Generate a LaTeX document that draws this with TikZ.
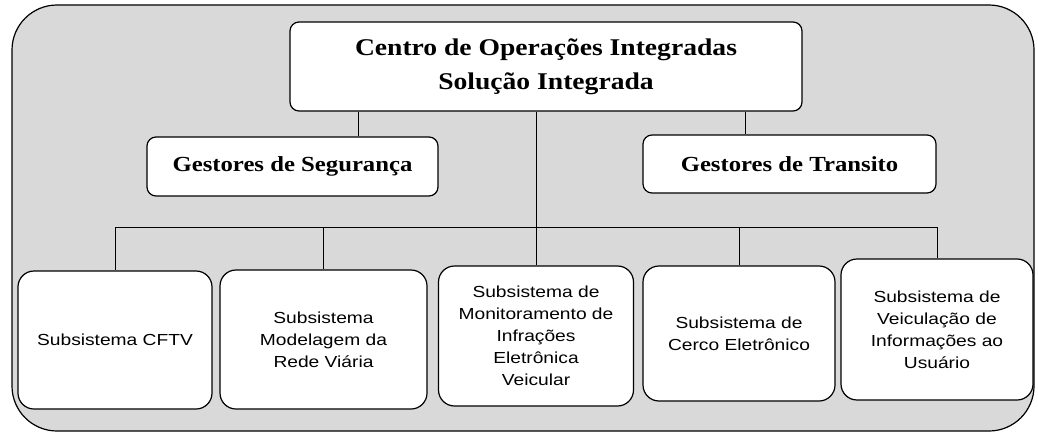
\documentclass[tikz,border=0pt]{standalone}
\usepackage{fontspec}
\setmainfont{Liberation Serif}
\newfontfamily\headfont[FakeStretch=1.15]{Liberation Serif}
\newfontfamily\subfont[FakeStretch=1.2]{Liberation Sans}
\begin{document}
\begin{tikzpicture}[x=1pt,y=-1pt,
	head/.style={draw,line width=1.2pt,fill=white,rounded corners=9pt,align=center,font=\headfont\bfseries\fontsize{21.5}{34}\selectfont},
	subbox/.style={draw,line width=1.2pt,fill=white,rounded corners=16pt,align=center,font=\subfont\fontsize{16}{22}\selectfont},
	link/.style={line width=0.9pt}]
	\useasboundingbox (0,0) rectangle (1038,436);
	\draw[line width=1.2pt,fill=black!15,rounded corners=45pt] (12,5) rectangle (1034,431);
	\node[head,minimum width=512pt,minimum height=89pt,font=\headfont\bfseries\fontsize{24}{34}\selectfont] (top) at (546,66.5) {Centro de Operações Integradas\\Solução Integrada};
	\node[head,minimum width=291pt,minimum height=59pt] (seg) at (292.5,166.5) {Gestores de Segurança};
	\node[head,minimum width=293pt,minimum height=58pt] (tran) at (789.5,164) {Gestores de Transito};
	\node[subbox,minimum width=194pt,minimum height=138pt] (cftv) at (115,340) {Subsistema CFTV};
	\node[subbox,minimum width=207pt,minimum height=139pt] (modl) at (323.5,339.5) {Subsistema\\Modelagem da\\Rede Viária};
	\node[subbox,minimum width=195pt,minimum height=140pt] (moni) at (536,336) {Subsistema de\\Monitoramento de\\Infrações\\Eletrônica\\Veicular};
	\node[subbox,minimum width=192pt,minimum height=135pt] (cerc) at (739,333.5) {Subsistema de\\Cerco Eletrônico};
	\node[subbox,minimum width=192pt,minimum height=141pt] (usua) at (937,329.5) {Subsistema de\\Veiculação de\\Informações ao\\Usuário};
	\coordinate (s1) at ([xshift=65.5pt]seg.north);
	\coordinate (t1) at ([xshift=-44.5pt]tran.north);
	\coordinate (bus) at (0,227);
	\draw[link] (s1 |- top.south) -- (s1);
	\draw[link] (t1 |- top.south) -- (t1);
	\draw[link] (moni.north |- top.south) -- (moni.north);
	\draw[link] (cftv.north |- bus) -- (usua.north |- bus);
	\foreach \n in {cftv,modl,cerc,usua}
		\draw[link] (\n.north |- bus) -- (\n.north);
\end{tikzpicture}
\end{document}
